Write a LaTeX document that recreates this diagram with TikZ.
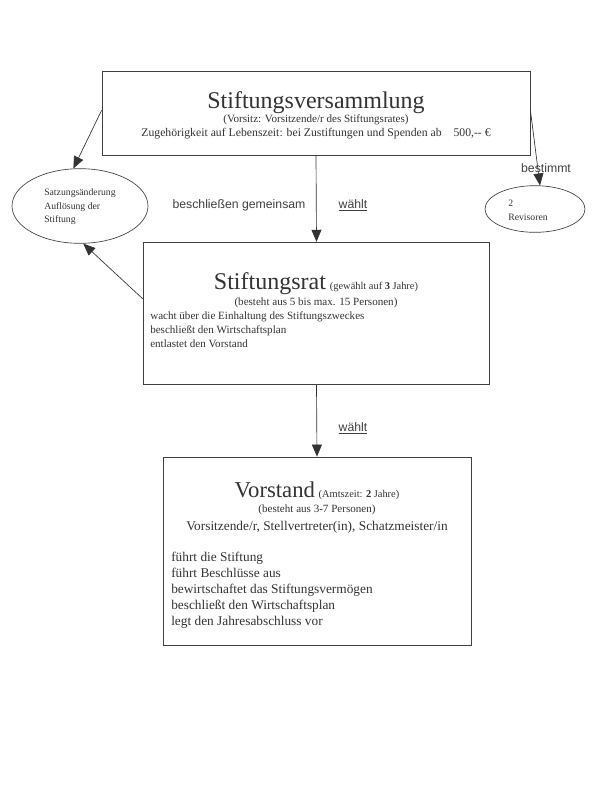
\documentclass[tikz,border=0pt]{standalone}
\usepackage{fontspec}
\setmainfont{Liberation Serif}
\newfontfamily\etikettfont{Liberation Sans}
\usetikzlibrary{arrows.meta,shapes.geometric}

\begin{document}
\begin{tikzpicture}[x=0.75pt,y=-0.75pt,
    kasten/.style={draw=black!75, line width=0.6pt, minimum width=#1, inner sep=0pt},
    oval/.style={ellipse, draw=black!75, line width=0.5pt, inner sep=0pt},
    pfeil/.style={draw=black!80, line width=0.5pt, -{Triangle[length=9pt,width=7.5pt]}},
    etikett/.style={font=\etikettfont\fontsize{9.2}{11}\selectfont, text=black!75, inner sep=0pt},
    zeile/.style={text=black!80, inner sep=0pt, anchor=base west}]
  \useasboundingbox (0,0) rectangle (600,800);

  % Kaesten
  \node[kasten=321pt, minimum height=63pt] (versammlung) at (316,113) {};
  \node[kasten=260pt, minimum height=107pt] (rat) at (316.5,313.5) {};
  \node[kasten=231pt, minimum height=141pt] (vorstand) at (317,551) {};

  % Ellipsen
  \node[oval, minimum width=102pt, minimum height=56pt] (satzung) at (80,206) {};
  \node[oval, minimum width=75pt, minimum height=35pt] (revisoren) at (535,209) {};

  % Stiftungsversammlung
  \node[text=black!80, inner sep=0pt, anchor=base] (titel1) at (316,108) {\fontsize{18}{20}\selectfont Stiftungsversammlung};
  \node[text=black!80, inner sep=0pt, anchor=base] (vorsitz) at (316,122) {\fontsize{8.3}{10}\selectfont (Vorsitz: Vorsitzende/r des Stiftungsrates)};
  \node[text=black!80, inner sep=0pt, anchor=base] (zugehoerig) at (316,136) {\fontsize{8.8}{10}\selectfont Zugehörigkeit auf Lebenszeit: bei Zustiftungen und Spenden ab\quad 500,-{}- €};

  % Stiftungsrat
  \node[text=black!80, inner sep=0pt, anchor=base] (titel2) at (316,289) {\fontsize{18}{20}\selectfont Stiftungsrat\,\fontsize{7.8}{9}\selectfont(gewählt auf \textbf{3} Jahre)};
  \node[text=black!80, inner sep=0pt, anchor=base] (personen2) at (316,305) {\fontsize{8.3}{10}\selectfont (besteht aus 5 bis max. 15 Personen)};
  \node[zeile] (rat1) at (150,319) {\fontsize{8.3}{10}\selectfont wacht über die Einhaltung des Stiftungszweckes};
  \node[zeile] (rat2) at (150,333) {\fontsize{8.3}{10}\selectfont beschließt den Wirtschaftsplan};
  \node[zeile] (rat3) at (150,347) {\fontsize{8.3}{10}\selectfont entlastet den Vorstand};

  % Vorstand
  \node[text=black!80, inner sep=0pt, anchor=base] (titel3) at (317,497) {\fontsize{17}{20}\selectfont Vorstand\,\fontsize{7.8}{9}\selectfont(Amtszeit: \textbf{2} Jahre)};
  \node[text=black!80, inner sep=0pt, anchor=base] (personen3) at (317,512) {\fontsize{8.3}{10}\selectfont (besteht aus 3-7 Personen)};
  \node[text=black!80, inner sep=0pt, anchor=base] (aemter) at (317,530) {\fontsize{10}{12}\selectfont Vorsitzende/r, Stellvertreter(in), Schatzmeister/in};
  \node[zeile] (vs1) at (171,561) {\fontsize{10}{12}\selectfont führt die Stiftung};
  \node[zeile] (vs2) at (171,577) {\fontsize{10}{12}\selectfont führt Beschlüsse aus};
  \node[zeile] (vs3) at (171,593) {\fontsize{10}{12}\selectfont bewirtschaftet das Stiftungsvermögen};
  \node[zeile] (vs4) at (171,609) {\fontsize{10}{12}\selectfont beschließt den Wirtschaftsplan};
  \node[zeile] (vs5) at (171,625) {\fontsize{10}{12}\selectfont legt den Jahresabschluss vor};

  % Ellipsentexte
  \node[zeile] (satz1) at (44,195) {\fontsize{7.3}{9}\selectfont Satzungsänderung};
  \node[zeile] (satz2) at (44,209) {\fontsize{7.3}{9}\selectfont Auflösung der};
  \node[zeile] (satz3) at (44,222) {\fontsize{7.3}{9}\selectfont Stiftung};
  \node[zeile] (rev1) at (508,206) {\fontsize{7.3}{9}\selectfont 2};
  \node[zeile] (rev2) at (508,220) {\fontsize{7.3}{9}\selectfont Revisoren};

  % Pfeile
  \draw[pfeil] (versammlung.south) -- (rat.north);
  \draw[pfeil] (rat.south) -- (vorstand.north);
  \draw[pfeil] ([yshift=2pt]versammlung.west) -- (satzung.100);
  \draw[pfeil] ([yshift=2pt]versammlung.east) -- (revisoren.78);
  \draw[pfeil] ([yshift=11pt]rat.west) -- (satzung.-85);

  % Beschriftungen
  \node[etikett] (bestimmt) at (546,168) {bestimmt};
  \node[etikett] (gemeinsam) at (239,205) {beschließen gemeinsam};
  \node[etikett] (waehlt1) at (353,205) {\underline{wählt}};
  \node[etikett] (waehlt2) at (353,428) {\underline{wählt}};
\end{tikzpicture}
\end{document}
